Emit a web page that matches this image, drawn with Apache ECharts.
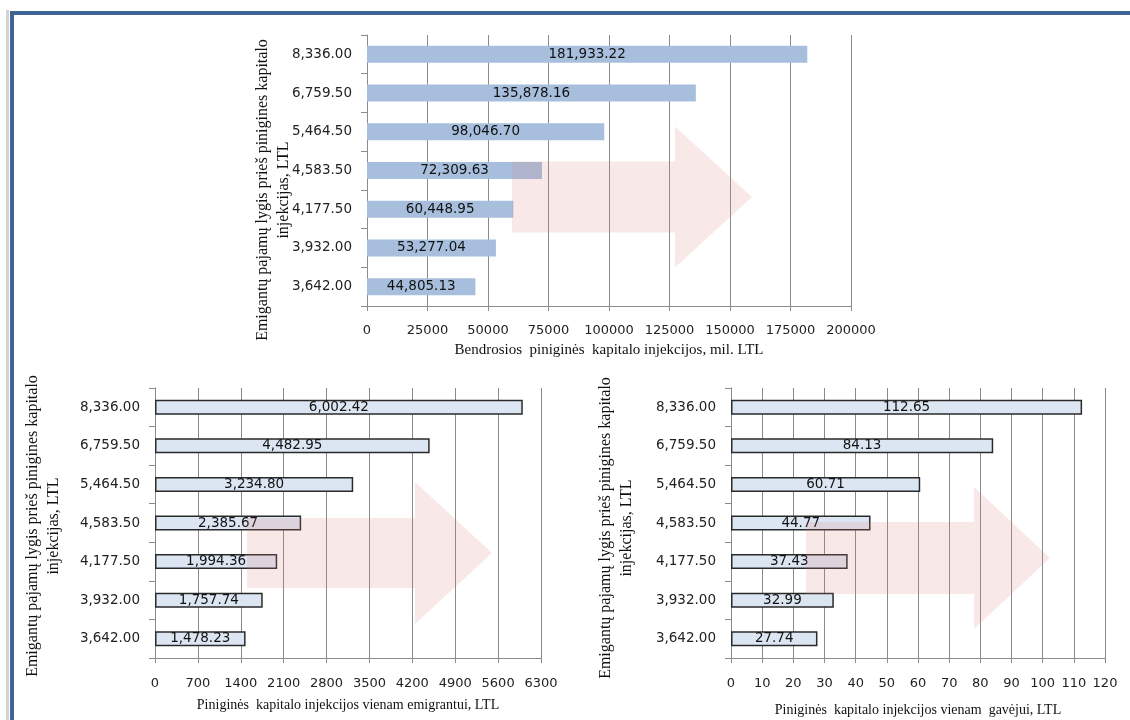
<!DOCTYPE html>
<html>
<head>
<meta charset="utf-8">
<script src="https://cdn.jsdelivr.net/npm/echarts@6/dist/echarts.min.js"></script>
<style>
html,body{margin:0;padding:0;background:#fff;}
#chart{width:1130px;height:720px;}
</style>
</head>
<body>
<div id="chart"></div>
<script>
// ---- data (top to bottom) ----
var categories = ['8,336.00','6,759.50','5,464.50','4,583.50','4,177.50','3,932.00','3,642.00'];
var totalInjections = [181933.22, 135878.16, 98046.70, 72309.63, 60448.95, 53277.04, 44805.13];
var perEmigrant = [6002.42, 4482.95, 3234.80, 2385.67, 1994.36, 1757.74, 1478.23];
var perRecipient = [112.65, 84.13, 60.71, 44.77, 37.43, 32.99, 27.74];

var yTitle = 'Emigantų pajamų lygis prieš pinigines kapitalo\ninjekcijas, LTL';
var xTitles = [
  'Bendrosios  piniginės  kapitalo injekcijos, mil. LTL',
  'Piniginės  kapitalo injekcijos vienam emigrantui, LTL',
  'Piniginės  kapitalo injekcijos vienam  gavėjui, LTL'
];

function fmt(v){
  return v.toLocaleString('en-US',{minimumFractionDigits:2,maximumFractionDigits:2});
}

var sans = 'DejaVu Sans';
var serif = 'Liberation Serif';
var gridColor = '#8a8a8a';

var grids = [
  {left:367, top:35, width:484, height:271},
  {left:155, top:388, width:386, height:270},
  {left:731, top:388, width:374, height:270}
];
var xMax = [200000, 6300, 120];
var xInt = [25000, 700, 10];
var labelMargin = [18, 19, 19];
var nameGap = [37, 40, 45];
var nameSize = [15, 14, 14];

var xAxes = [], yAxes = [];
for (var i=0;i<3;i++){
  xAxes.push({
    type:'value', gridIndex:i, min:0, max:xMax[i], interval:xInt[i],
    name:xTitles[i], nameLocation:'middle', nameGap:nameGap[i],
    nameTextStyle:{fontFamily:serif, fontSize:nameSize[i], color:'#111'},
    axisLine:{show:true, lineStyle:{color:gridColor, width:1}},
    axisTick:{show:true, length:5, lineStyle:{color:gridColor}},
    axisLabel:{fontFamily:sans, fontSize:13, color:'#222', margin:labelMargin[i],
      formatter:function(v){return String(v);}},
    splitLine:{show:true, lineStyle:{color:gridColor, width:1}}
  });
  yAxes.push({
    type:'category', gridIndex:i, data:categories, inverse:true,
    axisLine:{show:true, lineStyle:{color:gridColor, width:1}},
    axisTick:{show:true, length:6, inside:false, lineStyle:{color:gridColor}},
    axisLabel:{fontFamily:sans, fontSize:13.5, color:'#222', margin:15},
    splitLine:{show:false}
  });
}

var labelCfg = {show:true, position:'inside', fontFamily:sans, fontSize:13.5, color:'#111',
  formatter:function(p){return fmt(p.value);}};

var series = [
  {type:'bar', xAxisIndex:0, yAxisIndex:0, data:totalInjections, barWidth:17,
   itemStyle:{color:'#a7bfdd'}, label:labelCfg, z:2},
  {type:'bar', xAxisIndex:1, yAxisIndex:1, data:perEmigrant, barWidth:15,
   itemStyle:{color:'#dce6f2', borderColor:'#2a2a2a', borderWidth:1.5}, label:labelCfg, z:2},
  {type:'bar', xAxisIndex:2, yAxisIndex:2, data:perRecipient, barWidth:15,
   itemStyle:{color:'#dce6f2', borderColor:'#2a2a2a', borderWidth:1.5}, label:labelCfg, z:2}
];

function arrow(x0, x1, x2, yc, sh, hh){
  return {
    type:'polygon', z:50, silent:true,
    shape:{points:[[x0,yc-sh],[x1,yc-sh],[x1,yc-hh],[x2,yc],[x1,yc+hh],[x1,yc+sh],[x0,yc+sh]]},
    style:{fill:'rgba(220,130,130,0.18)'}
  };
}
function ytitle(x, y){
  return {
    type:'text', x:x, y:y, rotation:Math.PI/2, z:10,
    style:{text:yTitle, fontFamily:serif, fontSize:16, fill:'#111', lineHeight:21,
      align:'center', verticalAlign:'middle'}
  };
}

var graphics = [
  // frame
  {type:'rect', shape:{x:6, y:10, width:3, height:710}, style:{fill:'#d4d4d4'}},
  {type:'rect', shape:{x:10, y:11, width:4, height:709}, style:{fill:'#3f6594'}},
  {type:'rect', shape:{x:10, y:11, width:1120, height:4}, style:{fill:'#3f6594'}},
  arrow(512, 675, 752, 197, 35.5, 70.5),
  arrow(247, 415, 492, 553, 35, 71),
  arrow(806, 974, 1050, 558, 36, 71),
  ytitle(273, 190),
  ytitle(43, 526),
  ytitle(616, 528)
];

var chart = echarts.init(document.getElementById('chart'), null, {renderer:'canvas'});
chart.setOption({
  animation:false,
  backgroundColor:'#fff',
  grid:grids,
  xAxis:xAxes,
  yAxis:yAxes,
  series:series,
  graphic:graphics
});
</script>
</body>
</html>
